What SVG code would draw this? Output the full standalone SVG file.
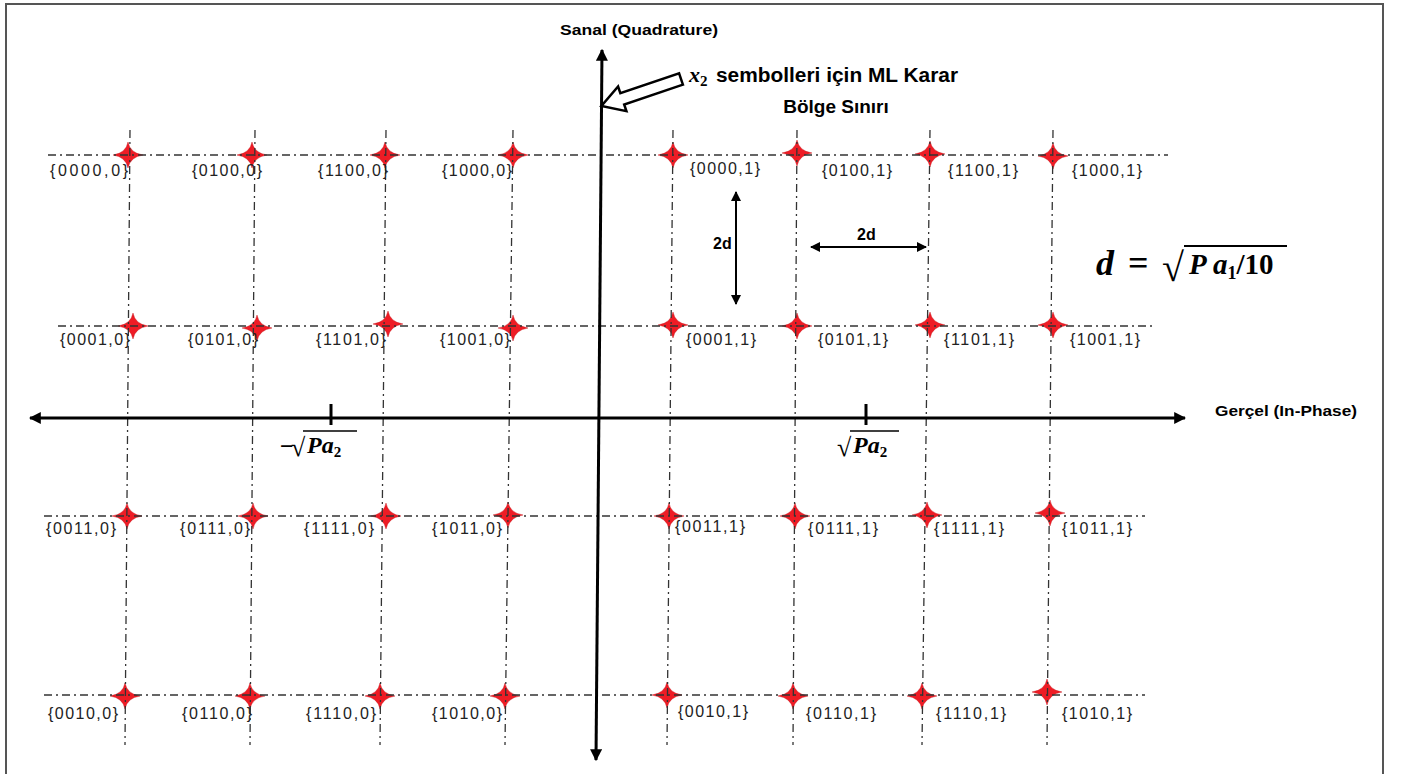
<svg xmlns="http://www.w3.org/2000/svg" width="1402" height="774" viewBox="0 0 1402 774">
<style>
.grid{stroke:#333;stroke-width:1.3;fill:none;stroke-dasharray:8 4 2 4}
.axis{stroke:#000;stroke-width:3;fill:none}
.star{fill:#ee1c25;stroke:#c0141a;stroke-width:0.4}
.lbl{font-family:"Liberation Sans",Arial,sans-serif;font-size:16px;fill:#222}
.bold{font-family:"Liberation Sans",Arial,sans-serif;font-weight:bold;fill:#000}
.math{font-family:"Liberation Serif","DejaVu Serif",serif;font-weight:bold;font-style:italic;fill:#000}
.mathr{font-family:"Liberation Serif","DejaVu Serif",serif;font-weight:bold;fill:#000}
</style>
<defs>
<marker id="ah" viewBox="0 0 10 10" refX="9" refY="5" markerWidth="4" markerHeight="4" orient="auto-start-reverse"><path d="M0,0 L10,5 L0,10 Z" fill="#000"/></marker>
<marker id="sh" viewBox="0 0 10 10" refX="9" refY="5" markerWidth="5" markerHeight="5" orient="auto-start-reverse"><path d="M0,0 L10,5 L0,10 Z" fill="#000"/></marker>
<path id="st" d="M0,-13 Q2,-2 15,0 Q2,2 0,13 Q-2,2 -15,0 Q-2,-2 0,-13Z"/>
</defs>
<rect x="6" y="4" width="1377" height="800" fill="#fff" stroke="#555" stroke-width="2"/>

<g id="stars">
<use href="#st" class="star" x="128" y="155"/><use href="#st" class="star" x="252" y="155"/><use href="#st" class="star" x="385" y="155"/><use href="#st" class="star" x="513" y="155"/>
<use href="#st" class="star" x="673" y="155"/><use href="#st" class="star" x="797" y="153"/><use href="#st" class="star" x="930" y="154"/><use href="#st" class="star" x="1053" y="156"/>
<use href="#st" class="star" x="133" y="326"/><use href="#st" class="star" x="257" y="328"/><use href="#st" class="star" x="388" y="324"/><use href="#st" class="star" x="513" y="328"/>
<use href="#st" class="star" x="673" y="325"/><use href="#st" class="star" x="797" y="326"/><use href="#st" class="star" x="930" y="325"/><use href="#st" class="star" x="1053" y="325"/>
<use href="#st" class="star" x="127" y="516"/><use href="#st" class="star" x="253" y="516"/><use href="#st" class="star" x="386" y="516"/><use href="#st" class="star" x="508" y="515"/>
<use href="#st" class="star" x="669" y="516"/><use href="#st" class="star" x="795" y="516"/><use href="#st" class="star" x="927" y="515"/><use href="#st" class="star" x="1050" y="513"/>
<use href="#st" class="star" x="125" y="696"/><use href="#st" class="star" x="250" y="696"/><use href="#st" class="star" x="380" y="696"/><use href="#st" class="star" x="505" y="696"/>
<use href="#st" class="star" x="667" y="695"/><use href="#st" class="star" x="793" y="696"/><use href="#st" class="star" x="922" y="696"/><use href="#st" class="star" x="1047" y="692"/>
</g>

<g id="connectors">
<line class="grid" x1="48" y1="155" x2="1168" y2="155"/>
<line class="grid" x1="58" y1="326" x2="1155" y2="326"/>
<line class="grid" x1="44" y1="516" x2="1145" y2="516"/>
<line class="grid" x1="44" y1="695" x2="1145" y2="695"/>
<line class="grid" x1="130" y1="130" x2="125" y2="745"/>
<line class="grid" x1="255" y1="130" x2="250" y2="745"/>
<line class="grid" x1="386" y1="130" x2="380" y2="745"/>
<line class="grid" x1="513" y1="130" x2="505" y2="745"/>
<line class="grid" x1="673" y1="130" x2="667" y2="745"/>
<line class="grid" x1="797" y1="130" x2="793" y2="745"/>
<line class="grid" x1="930" y1="130" x2="922" y2="745"/>
<line class="grid" x1="1053" y1="130" x2="1047" y2="745"/>
<line class="axis" x1="1185" y1="418" x2="30" y2="418" marker-end="url(#ah)" marker-start="url(#ah)"/>
<line class="axis" x1="602" y1="50" x2="596" y2="760" marker-start="url(#ah)" marker-end="url(#ah)"/>
<line class="axis" x1="331" y1="404" x2="331" y2="425"/>
<line class="axis" x1="866" y1="404" x2="866" y2="425"/>
<line stroke="#000" stroke-width="2" x1="736" y1="192" x2="736" y2="304" marker-start="url(#sh)" marker-end="url(#sh)"/>
<line stroke="#000" stroke-width="2" x1="811" y1="247" x2="926" y2="247" marker-start="url(#sh)" marker-end="url(#sh)"/>
<polygon points="0,-6 62,-6 62,-13 84,0 62,13 62,6 0,6" transform="translate(681,79) rotate(161.35)" fill="#fff" stroke="#000" stroke-width="2.5" stroke-linejoin="miter"/>
</g>

<g id="labels">
<text class="lbl" x="50" y="176" textLength="78" lengthAdjust="spacing">{0000,0}</text>
<text class="lbl" x="192" y="176" textLength="70" lengthAdjust="spacing">{0100,0}</text>
<text class="lbl" x="318" y="176" textLength="70" lengthAdjust="spacing">{1100,0}</text>
<text class="lbl" x="442" y="176" textLength="70" lengthAdjust="spacing">{1000,0}</text>
<text class="lbl" x="690" y="174" textLength="70" lengthAdjust="spacing">{0000,1}</text>
<text class="lbl" x="822" y="176" textLength="70" lengthAdjust="spacing">{0100,1}</text>
<text class="lbl" x="948" y="176" textLength="70" lengthAdjust="spacing">{1100,1}</text>
<text class="lbl" x="1072" y="176" textLength="70" lengthAdjust="spacing">{1000,1}</text>

<text class="lbl" x="60" y="345" textLength="70" lengthAdjust="spacing">{0001,0}</text>
<text class="lbl" x="188" y="345" textLength="70" lengthAdjust="spacing">{0101,0}</text>
<text class="lbl" x="316" y="345" textLength="70" lengthAdjust="spacing">{1101,0}</text>
<text class="lbl" x="440" y="345" textLength="70" lengthAdjust="spacing">{1001,0}</text>
<text class="lbl" x="686" y="345" textLength="70" lengthAdjust="spacing">{0001,1}</text>
<text class="lbl" x="818" y="345" textLength="70" lengthAdjust="spacing">{0101,1}</text>
<text class="lbl" x="944" y="345" textLength="70" lengthAdjust="spacing">{1101,1}</text>
<text class="lbl" x="1070" y="345" textLength="70" lengthAdjust="spacing">{1001,1}</text>

<text class="lbl" x="46" y="534" textLength="70" lengthAdjust="spacing">{0011,0}</text>
<text class="lbl" x="180" y="534" textLength="70" lengthAdjust="spacing">{0111,0}</text>
<text class="lbl" x="304" y="534" textLength="70" lengthAdjust="spacing">{1111,0}</text>
<text class="lbl" x="432" y="534" textLength="70" lengthAdjust="spacing">{1011,0}</text>
<text class="lbl" x="675" y="532" textLength="70" lengthAdjust="spacing">{0011,1}</text>
<text class="lbl" x="808" y="534" textLength="70" lengthAdjust="spacing">{0111,1}</text>
<text class="lbl" x="934" y="534" textLength="70" lengthAdjust="spacing">{1111,1}</text>
<text class="lbl" x="1062" y="534" textLength="70" lengthAdjust="spacing">{1011,1}</text>

<text class="lbl" x="48" y="719" textLength="70" lengthAdjust="spacing">{0010,0}</text>
<text class="lbl" x="182" y="719" textLength="70" lengthAdjust="spacing">{0110,0}</text>
<text class="lbl" x="306" y="719" textLength="70" lengthAdjust="spacing">{1110,0}</text>
<text class="lbl" x="432" y="719" textLength="70" lengthAdjust="spacing">{1010,0}</text>
<text class="lbl" x="678" y="717" textLength="70" lengthAdjust="spacing">{0010,1}</text>
<text class="lbl" x="806" y="719" textLength="70" lengthAdjust="spacing">{0110,1}</text>
<text class="lbl" x="936" y="719" textLength="70" lengthAdjust="spacing">{1110,1}</text>
<text class="lbl" x="1062" y="719" textLength="70" lengthAdjust="spacing">{1010,1}</text>
</g>

<g id="axis-labels">
<text class="bold" x="560" y="35" font-size="15" textLength="158" lengthAdjust="spacingAndGlyphs">Sanal (Quadrature)</text>
<text class="bold" x="1215" y="416" font-size="15" textLength="142" lengthAdjust="spacingAndGlyphs">Gerçel (In-Phase)</text>
<text class="bold" x="713" y="249" font-size="16">2d</text>
<text class="bold" x="857" y="240" font-size="16">2d</text>
</g>

<g id="annotation">
<text class="math" x="689" y="82" font-size="22" font-weight="normal">x<tspan class="mathr" font-weight="normal" font-style="normal" font-size="15" dy="4">2</tspan></text>
<text class="bold" x="716" y="82" font-size="20" textLength="242" lengthAdjust="spacingAndGlyphs">sembolleri için ML Karar</text>
<text class="bold" x="836" y="113" font-size="19" text-anchor="middle">Bölge Sınırı</text>
</g>

<g id="tick-labels">
<text class="mathr" x="280" y="454" font-size="24">−</text>
<text class="mathr" x="291" y="456" font-size="26">√</text>
<line x1="303" y1="431" x2="357" y2="431" stroke="#000" stroke-width="1.5"/>
<text class="math" x="307" y="453" font-size="24">Pa<tspan class="mathr" font-style="normal" font-size="15" dy="4">2</tspan></text>
<text class="mathr" x="837" y="456" font-size="26">√</text>
<line x1="850" y1="431" x2="899" y2="431" stroke="#000" stroke-width="1.5"/>
<text class="math" x="853" y="453" font-size="24">Pa<tspan class="mathr" font-style="normal" font-size="15" dy="4">2</tspan></text>
</g>

<g id="formula">
<text class="math" x="1096" y="275" font-size="36">d</text>
<text class="mathr" x="1128" y="275" font-size="36">=</text>
<text class="mathr" x="1162" y="281" font-size="40">√</text>
<line x1="1184" y1="246" x2="1287" y2="246" stroke="#000" stroke-width="2"/>
<text class="math" x="1189" y="274" font-size="29">P a<tspan class="mathr" font-style="normal" font-size="18" dy="5">1</tspan><tspan class="mathr" font-style="normal" dy="-5">/10</tspan></text>
</g>
</svg>
